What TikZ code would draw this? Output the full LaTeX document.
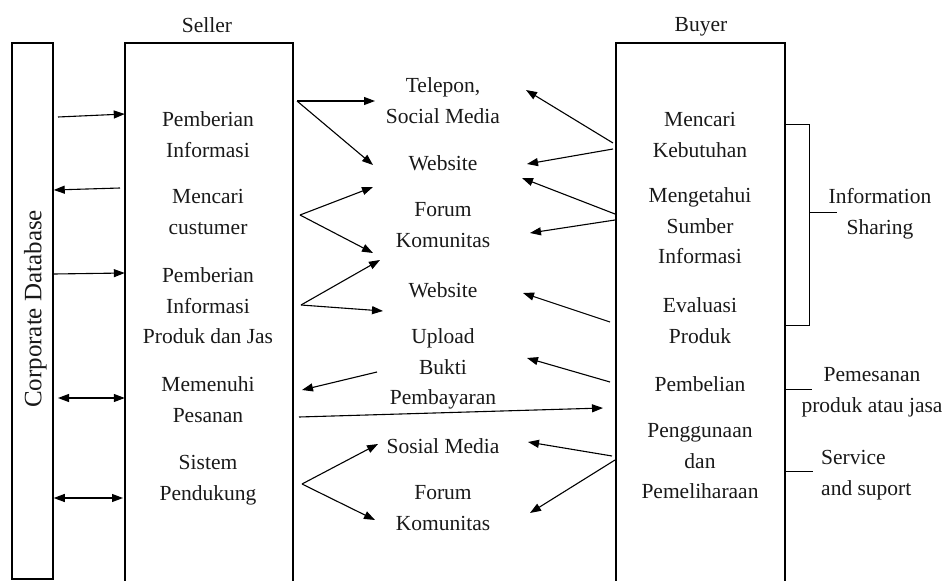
\documentclass[tikz,border=0pt]{standalone}
\usepackage{fontspec}
\setmainfont{Liberation Serif}
\usetikzlibrary{arrows.meta}
\begin{document}
\begin{tikzpicture}[x=1pt,y=-1pt,
  txt/.style={font=\fontsize{21.5}{30.5}\selectfont, align=center, inner sep=0pt, anchor=north, text=black!90},
  frame/.style={line width=1.5pt},
  tip/.tip={Triangle[length=11pt,width=8pt]},
  arr/.style={line width=1.1pt, -tip},
  dbl/.style={line width=1.1pt, tip-tip},
  link/.style={line width=0.9pt}]
\useasboundingbox (0,0) rectangle (946,581);

% --- database column ---
\node[frame, draw, minimum width=41pt, minimum height=536pt, inner sep=0pt] (db) at (32.5,311) {};
\node[rotate=90, anchor=base, inner sep=0pt, text=black!90, font=\fontsize{25}{30}\selectfont] (dbtext) at (41.5,309) {Corporate Database};

% --- seller and buyer columns (open at the bottom) ---
\node[minimum width=168pt, minimum height=538pt, inner sep=0pt] (seller) at (209,312) {};
\draw[frame] (seller.south west) |- (seller.north east) -- (seller.south east);
\node[minimum width=169pt, minimum height=538pt, inner sep=0pt] (buyer) at (700.5,312) {};
\draw[frame] (buyer.south west) |- (buyer.north east) -- (buyer.south east);

\node[txt] (sellerT) at (207,17.5) {Seller};
\node[txt] (buyerT) at (701,17.5) {Buyer};

% --- seller activities ---
\node[txt] (s1) at (208,111.5) {Pemberian\\Informasi};
\node[txt] (s2) at (208,189.5) {Mencari\\custumer};
\node[txt] (s3) at (208,267.5) {Pemberian\\Informasi\\Produk dan Jas};
\node[txt] (s4) at (208,376.5) {Memenuhi\\Pesanan};
\node[txt] (s5) at (208,455.5) {Sistem\\Pendukung};

% --- channels ---
\node[txt] (m1) at (443,77.5) {Telepon,\\Social Media};
\node[txt] (m2) at (443,155.5) {Website};
\node[txt] (m3) at (443,202.5) {Forum\\Komunitas};
\node[txt] (m4) at (443,282.5) {Website};
\node[txt] (m5) at (443,328.5) {Upload\\Bukti\\Pembayaran};
\node[txt] (m6) at (443,438.5) {Sosial Media};
\node[txt] (m7) at (443,485.5) {Forum\\Komunitas};

% --- buyer activities ---
\node[txt] (b1) at (700,112.5) {Mencari\\Kebutuhan};
\node[txt] (b2) at (700,187.5) {Mengetahui\\Sumber\\Informasi};
\node[txt] (b3) at (700,297.5) {Evaluasi\\Produk};
\node[txt] (b4) at (700,376.5) {Pembelian};
\node[txt] (b5) at (700,423.5) {Penggunaan\\dan\\Pemeliharaan};

% --- phase labels ---
\node[txt] (r1) at (880,188.5) {Information\\Sharing};
\node[txt] (r2) at (872,367.5) {Pemesanan\\produk atau jasa};
\node[txt, anchor=north west, align=left] (r3) at (821,450.5) {Service\\and suport};

% --- database <-> seller ---
\draw[arr] (58,117) -- (seller.west |- 0,114);
\draw[arr] (120,188) -- (db.east |- 0,190);
\draw[arr] (db.east |- 0,274) -- (seller.west |- 0,273);
\draw[dbl] (58,398) -- (seller.west |- 0,398);
\draw[dbl] (db.east |- 0,498) -- (123,498);

% --- seller -> channels ---
\coordinate (f1) at (297,101);
\coordinate (f2) at (300,215);
\coordinate (f3) at (301,305);
\coordinate (f4) at (302,484);
\draw[arr] (f1) -- (375,101);
\draw[arr] (f1) -- (373,165);
\draw[arr] (f2) -- (373,187);
\draw[arr] (f2) -- (373,253);
\draw[arr] (f3) -- (380,260);
\draw[arr] (f3) -- (383,311);
\draw[arr] (377,372) -- (302,390);
\draw[arr] (299,417) -- (603,408);
\draw[arr] (f4) -- (378,444);
\draw[arr] (f4) -- (375,520);

% --- buyer -> channels ---
\draw[arr] (613,143) -- (526,90);
\draw[arr] (613,149) -- (527,164);
\draw[arr] (615,214) -- (522,178);
\draw[arr] (615,220) -- (530,233);
\draw[arr] (610,322) -- (523,293);
\draw[arr] (610,382) -- (527,358);
\draw[arr] (612,456) -- (528,442);
\draw[arr] (615,460) -- (530,513);

% --- brackets to phase labels ---
\draw[link] (buyer.east |- 0,124) -- (809,124) -- (809,325) -- (buyer.east |- 0,325);
\draw[link] (809,212) -- (837,212);
\draw[link] (buyer.east |- 0,389) -- (812,389);
\draw[link] (buyer.east |- 0,471) -- (813,471);
\end{tikzpicture}
\end{document}
